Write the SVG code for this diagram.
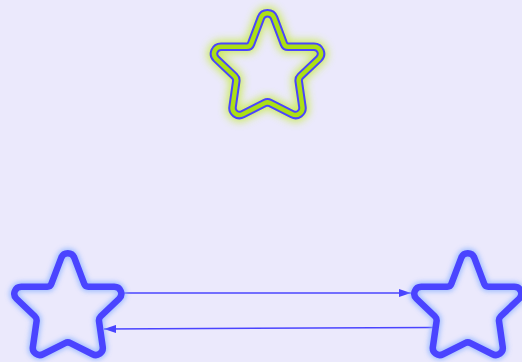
<svg xmlns="http://www.w3.org/2000/svg" xmlns:xlink="http://www.w3.org/1999/xlink" width="522" height="362" viewBox="0 0 522 362">
<style>
.bg{fill:#ebe9fc}
.edge{stroke:#4a44ff;stroke-width:1.6;fill:none}
.star-blue{fill:none;stroke:#4a44ff;stroke-width:6.5;stroke-linejoin:round}
.glow-blue{fill:none;stroke:#8fb4ff;stroke-width:10;opacity:0.8}
.star-outer{fill:none;stroke:#4a44ff;stroke-width:8.5;stroke-linejoin:round}
.star-inner{fill:none;stroke:#acdf14;stroke-width:4.5;stroke-linejoin:round}
.glow-green{fill:none;stroke:#c6ec3c;stroke-width:13;opacity:0.85}
</style>
<defs>
<path id="star" d="M -6.57,17.81 A 7 7 0 0 1 6.57,17.81 L 16.44,43.89 Q 17.5,46.7 20.5,46.7 L 46.5,46.7 A 7 7 0 0 1 51.32,58.76 L 32.97,76.23 Q 30.8,78.3 31.23,81.27 L 34.93,107 A 7 7 0 0 1 24.84,114.25 L 2.68,103.05 Q 0,101.7 -2.68,103.05 L -24.84,114.25 A 7 7 0 0 1 -34.93,107 L -31.23,81.27 Q -30.8,78.3 -32.97,76.23 L -51.32,58.76 A 7 7 0 0 1 -46.5,46.7 L -20.5,46.7 Q -17.5,46.7 -16.44,43.89 Z"/>
<filter id="blurB" x="-30%" y="-30%" width="160%" height="160%"><feGaussianBlur stdDeviation="2.5"/></filter>
<filter id="blurG" x="-30%" y="-30%" width="160%" height="160%"><feGaussianBlur stdDeviation="4"/></filter>
<marker id="arrow" viewBox="0 0 12 8" refX="12" refY="4" markerWidth="12" markerHeight="8" markerUnits="userSpaceOnUse" orient="auto">
<path d="M0,0 L12,4 L0,8 z" fill="#4a44ff"/>
</marker>
</defs>
<rect class="bg" x="0" y="0" width="522" height="362"/>
<g id="connectors">
<line class="edge" x1="124" y1="293" x2="411" y2="293" marker-end="url(#arrow)"/>
<line class="edge" x1="433" y1="327.5" x2="104" y2="329" marker-end="url(#arrow)"/>
</g>
<g id="star-top" transform="translate(267.5,0)">
<use xlink:href="#star" class="glow-green" filter="url(#blurG)"/>
<use xlink:href="#star" class="star-outer"/>
<use xlink:href="#star" class="star-inner"/>
</g>
<g id="star-left" transform="translate(67.8,240)">
<use xlink:href="#star" class="glow-blue" filter="url(#blurB)"/>
<use xlink:href="#star" class="star-blue"/>
</g>
<g id="star-right" transform="translate(467.8,240)">
<use xlink:href="#star" class="glow-blue" filter="url(#blurB)"/>
<use xlink:href="#star" class="star-blue"/>
</g>
</svg>
